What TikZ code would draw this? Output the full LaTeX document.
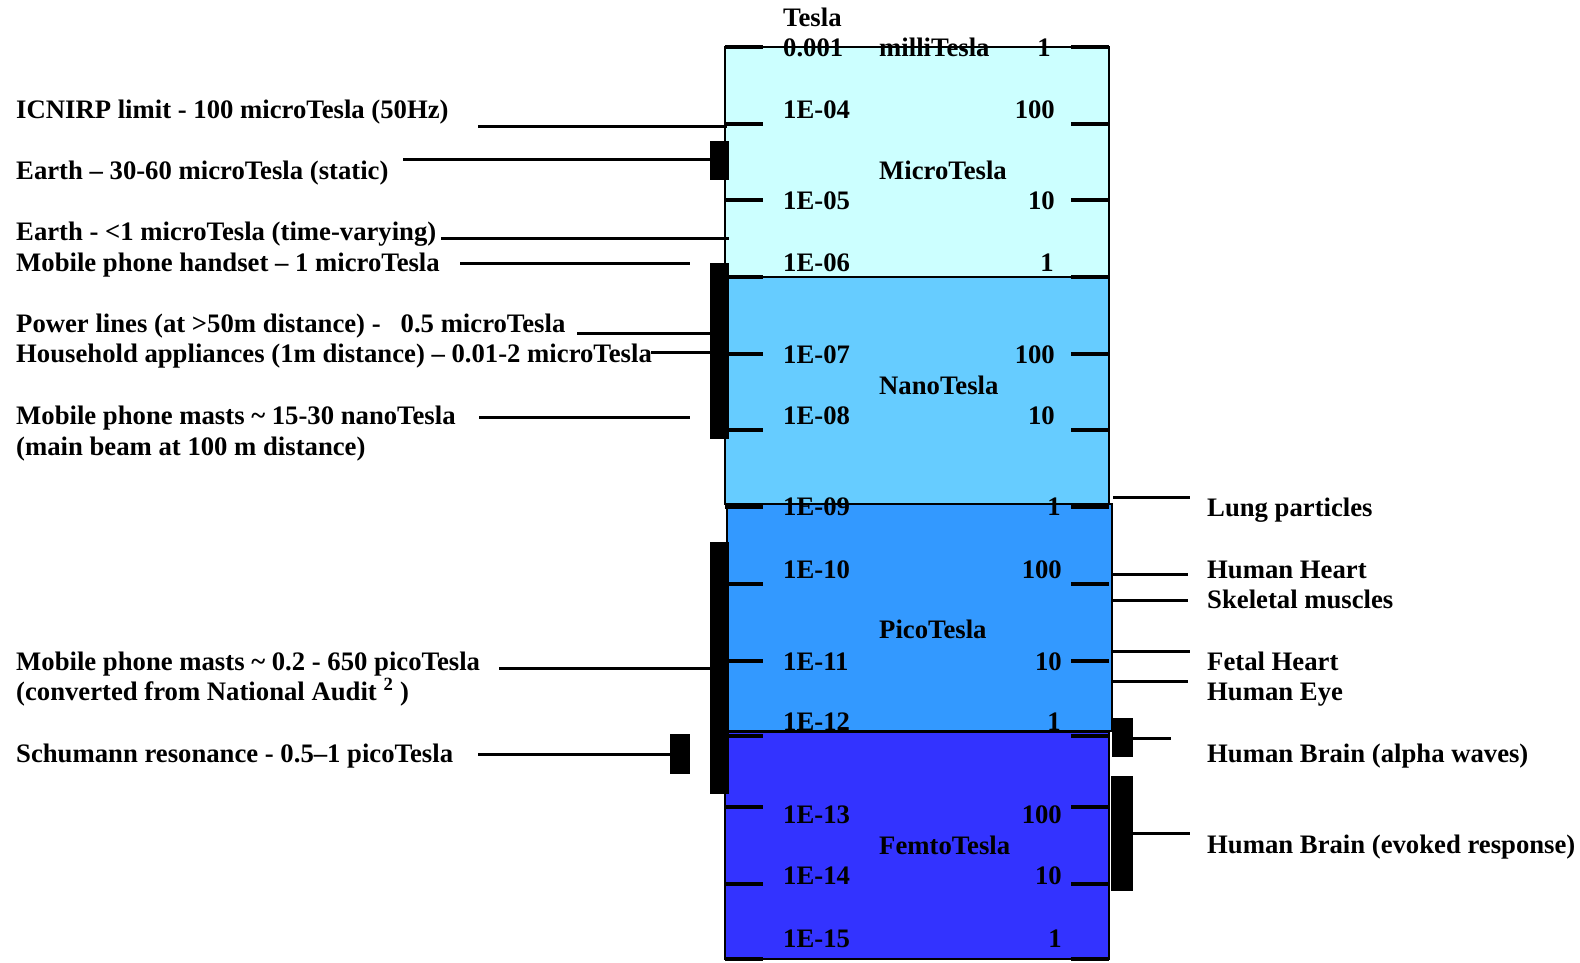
\documentclass[tikz,border=0pt]{standalone}
\usepackage{fontspec}
\setmainfont{Liberation Serif}
\definecolor{microc}{HTML}{CCFFFF}
\definecolor{nanoc}{HTML}{66CCFF}
\definecolor{picoc}{HTML}{3399FF}
\definecolor{femtoc}{HTML}{3333FF}
\tikzset{
  txt/.style={font=\fontsize{26.7}{28}\selectfont\bfseries, inner sep=0pt, text=black},
  lt/.style={txt, anchor=base west},
  rt/.style={txt, anchor=base east},
  band/.style={draw=black, line width=1.5pt},
  tick/.style={line width=4.5pt},
  conn/.style={line width=3pt},
  bar/.style={fill=black, draw=none, inner sep=0pt, minimum width=#1, anchor=north west},
}
\begin{document}
\begin{tikzpicture}[x=1pt,y=-1pt]
\useasboundingbox (0,0) rectangle (1580,962);
% bands
\draw[band, fill=microc] (725,47) rectangle (1109,277);
\draw[band, fill=nanoc] (725,277) rectangle (1109,504);
\draw[band, fill=picoc] (727,504) rectangle (1112,731);
\draw[band, fill=femtoc] (725,732) rectangle (1109,959);
% ticks
\foreach \y in {47,124,200,277,354,430,507,584,661,736,807,884,959}{
  \draw[tick] (725,\y) -- (763,\y);
  \draw[tick] (1071,\y) -- (1109,\y);
}
% scale labels
\node[lt] (tesla) at (783,26) {Tesla};
\node[lt] (s0) at (783,56) {0.001};
\node[lt] (milli) at (879,56) {milliTesla};
\node[rt] (r0) at (1051,56) {1};
\node[lt] (s4) at (783,118) {1E-04};
\node[rt] (r4) at (1055,118) {100};
\node[lt] (micro) at (879,179) {MicroTesla};
\node[lt] (s5) at (783,209) {1E-05};
\node[rt] (r5) at (1055,209) {10};
\node[lt] (s6) at (783,271) {1E-06};
\node[rt] (r6) at (1054,271) {1};
\node[lt] (s7) at (783,363) {1E-07};
\node[rt] (r7) at (1055,363) {100};
\node[lt] (nano) at (879,394) {NanoTesla};
\node[lt] (s8) at (783,424) {1E-08};
\node[rt] (r8) at (1055,424) {10};
\node[lt] (s9) at (783,515) {1E-09};
\node[rt] (r9) at (1061,515) {1};
\node[lt] (s10) at (783,578) {1E-10};
\node[rt] (r10) at (1062,578) {100};
\node[lt] (pico) at (879,638) {PicoTesla};
\node[lt] (s11) at (783,670) {1E-11};
\node[rt] (r11) at (1062,670) {10};
\node[lt] (s12) at (783,730) {1E-12};
\node[rt] (r12) at (1061,730) {1};
\node[lt] (s13) at (783,823) {1E-13};
\node[rt] (r13) at (1062,823) {100};
\node[lt] (femto) at (879,854) {FemtoTesla};
\node[lt] (s14) at (783,884) {1E-14};
\node[rt] (r14) at (1062,884) {10};
\node[lt] (s15) at (783,947) {1E-15};
\node[rt] (r15) at (1062,947) {1};
% range bars
\node[bar=19pt, minimum height=39pt] (earthbar) at (710,141) {};
\node[bar=19pt, minimum height=176pt] (nanobar) at (710,263) {};
\node[bar=19pt, minimum height=252pt] (picobar) at (710,542) {};
\node[bar=20pt, minimum height=40pt] (schubar) at (670,734) {};
\node[bar=21pt, minimum height=39pt] (alphabar) at (1112,718) {};
\node[bar=22pt, minimum height=115pt] (evokedbar) at (1111,776) {};
% left labels
\node[lt] (icnirp) at (16,118) {ICNIRP limit - 100 microTesla (50Hz)};
\node[lt] (earth1) at (16,179) {Earth – 30-60 microTesla (static)};
\node[lt] (earth2) at (16,240) {Earth - <1 microTesla (time-varying)};
\node[lt] (handset) at (16,271) {Mobile phone handset – 1 microTesla};
\node[lt] (power) at (16,332) {Power lines (at >50m distance) - \ \ 0.5 microTesla};
\node[lt] (house) at (16,362) {Household appliances (1m distance) – 0.01-2 microTesla};
\node[lt] (mast1) at (16,424) {Mobile phone masts \textasciitilde{} 15-30 nanoTesla};
\node[lt] (mast1b) at (16,455) {(main beam at 100 m distance)};
\node[lt] (mast2) at (16,670) {Mobile phone masts \textasciitilde{} 0.2 - 650 picoTesla};
\node[lt] (mast2b) at (16,700) {(converted from National Audit \textsuperscript{2} )};
\node[lt] (schu) at (16,762) {Schumann resonance - 0.5–1 picoTesla};
% right labels
\node[lt] (lung) at (1207,516) {Lung particles};
\node[lt] (heart) at (1207,578) {Human Heart};
\node[lt] (skel) at (1207,608) {Skeletal muscles};
\node[lt] (fetal) at (1207,670) {Fetal Heart};
\node[lt] (eye) at (1207,700) {Human Eye};
\node[lt] (alpha) at (1207,762) {Human Brain (alpha waves)};
\node[lt] (evoked) at (1207,853) {Human Brain (evoked response)};
% connector end points
\coordinate (c1a) at (478,126);  \coordinate (c1b) at (727,126);
\coordinate (c2a) at (403,159);  \coordinate (c2b) at (710,159);
\coordinate (c3a) at (441,238);  \coordinate (c3b) at (729,238);
\coordinate (c4a) at (460,263);  \coordinate (c4b) at (690,263);
\coordinate (c5a) at (577,333);  \coordinate (c5b) at (710,333);
\coordinate (c6a) at (651,352);  \coordinate (c6b) at (710,352);
\coordinate (c7a) at (479,417);  \coordinate (c7b) at (690,417);
\coordinate (c8a) at (499,668);  \coordinate (c8b) at (710,668);
\coordinate (c9a) at (478,754);  \coordinate (c9b) at (670,754);
\coordinate (d1a) at (1113,497); \coordinate (d1b) at (1190,497);
\coordinate (d2a) at (1111,574); \coordinate (d2b) at (1188,574);
\coordinate (d3a) at (1111,600); \coordinate (d3b) at (1188,600);
\coordinate (d4a) at (1113,651); \coordinate (d4b) at (1190,651);
\coordinate (d5a) at (1111,681); \coordinate (d5b) at (1188,681);
\coordinate (d6a) at (1133,738); \coordinate (d6b) at (1171,738);
\coordinate (d7a) at (1133,833); \coordinate (d7b) at (1190,833);
\foreach \p in {c1,c2,c3,c4,c5,c6,c7,c8,c9,d1,d2,d3,d4,d5,d6,d7}{
  \draw[conn] (\p a) -- (\p b);
}
\end{tikzpicture}
\end{document}
